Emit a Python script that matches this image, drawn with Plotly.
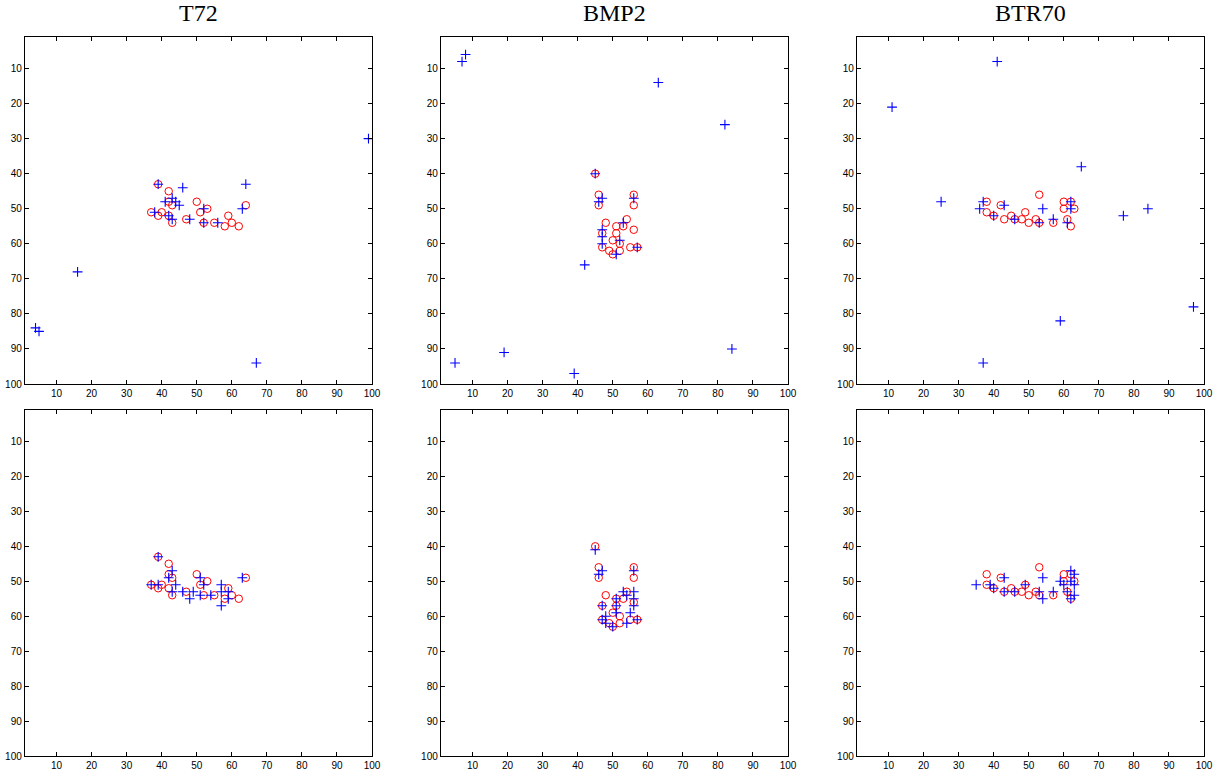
import plotly.graph_objects as go

titles = ["T72", "BMP2", "BTR70"]

# Red circles (same in both rows)
t72_circ_x = [39, 42, 42, 43, 37, 39, 40, 42, 43, 47, 50, 51, 53, 52, 55, 59, 58, 60, 62, 64]
t72_circ_y = [43, 45, 48, 49, 51, 52, 51, 52, 54, 53, 48, 51, 50, 54, 54, 52, 55, 54, 55, 49]
bmp2_circ_x = [45, 46, 46, 56, 56, 48, 54, 53, 47, 51, 56, 50, 52, 47, 49, 50, 52, 55, 57, 51]
bmp2_circ_y = [40, 46, 49, 46, 49, 54, 53, 55, 57, 57, 56, 59, 60, 61, 62, 63, 62, 61, 61, 55]
btr70_circ_x = [38, 38, 40, 42, 43, 45, 46, 48, 49, 50, 52, 53, 53, 57, 60, 60, 62, 63, 61, 62]
btr70_circ_y = [48, 51, 52, 49, 53, 52, 53, 53, 51, 54, 53, 46, 54, 54, 48, 50, 48, 50, 53, 55]

# Blue pluses, top row
t72_top_x = [39, 46, 43, 41, 44, 45, 38, 42, 43, 48, 52, 52, 56, 63, 64, 99, 16, 4, 5, 67]
t72_top_y = [43, 44, 47, 48, 48, 49, 51, 52, 53, 53, 50, 54, 54, 50, 43, 30, 68, 84, 85, 94]
bmp2_top_x = [45, 47, 46, 56, 53, 47, 47, 47, 52, 51, 57, 42, 8, 7, 63, 82, 5, 19, 39, 84]
bmp2_top_y = [40, 47, 48, 47, 54, 56, 58, 60, 59, 63, 61, 66, 6, 8, 14, 26, 94, 91, 97, 90]
btr70_top_x = [37, 36, 40, 43, 46, 53, 54, 57, 61, 62, 62, 65, 41, 11, 25, 77, 84, 59, 37, 97]
btr70_top_y = [48, 50, 52, 49, 53, 54, 50, 53, 54, 48, 50, 38, 8, 21, 48, 52, 50, 82, 94, 78]

# Blue pluses, bottom row
t72_bot_x = [39, 43, 42, 37, 39, 44, 43, 46, 49, 48, 51, 52, 51, 54, 57, 57, 59, 59, 57, 63]
t72_bot_y = [43, 47, 49, 51, 51, 51, 53, 53, 53, 55, 49, 51, 54, 54, 51, 53, 53, 55, 57, 49]
bmp2_bot_x = [45, 47, 46, 56, 53, 56, 54, 56, 51, 56, 47, 51, 51, 55, 47, 48, 48, 50, 54, 57]
bmp2_bot_y = [41, 47, 48, 47, 53, 53, 54, 55, 55, 57, 57, 57, 59, 59, 61, 60, 62, 63, 62, 61]
btr70_bot_x = [35, 39, 40, 43, 43, 46, 49, 53, 54, 54, 57, 59, 60, 62, 63, 62, 63, 61, 63, 62]
btr70_bot_y = [51, 51, 52, 49, 53, 53, 51, 53, 49, 55, 53, 50, 51, 47, 48, 50, 51, 53, 54, 55]

tick_vals = [10, 20, 30, 40, 50, 60, 70, 80, 90, 100]

W, H = 1221, 776
col_px = [(25, 372), (441, 788), (857, 1204)]
row_px = [(37, 384), (410, 756)]

circ = [(t72_circ_x, t72_circ_y), (bmp2_circ_x, bmp2_circ_y), (btr70_circ_x, btr70_circ_y)]
plus = [
    [(t72_top_x, t72_top_y), (bmp2_top_x, bmp2_top_y), (btr70_top_x, btr70_top_y)],
    [(t72_bot_x, t72_bot_y), (bmp2_bot_x, bmp2_bot_y), (btr70_bot_x, btr70_bot_y)],
]

fig = go.Figure()
layout = {}
annotations = []
n = 0
for r in range(2):
    for c in range(3):
        n += 1
        xa = "x" if n == 1 else f"x{n}"
        ya = "y" if n == 1 else f"y{n}"
        cx, cy = circ[c]
        fig.add_trace(go.Scatter(
            x=cx, y=cy, mode="markers", xaxis=xa, yaxis=ya, showlegend=False,
            marker=dict(symbol="circle-open", size=7.5, color="#ff0000", line=dict(width=1, color="#ff0000")),
        ))
        px_, py_ = plus[r][c]
        fig.add_trace(go.Scatter(
            x=px_, y=py_, mode="markers", xaxis=xa, yaxis=ya, showlegend=False,
            marker=dict(symbol="cross-thin-open", size=7, color="#0000ff", line=dict(width=1.1, color="#0000ff")),
        ))
        x0, x1 = col_px[c]
        y0, y1 = row_px[r]
        common = dict(
            tickvals=tick_vals, ticktext=[str(v) for v in tick_vals], ticks="inside", ticklen=4,
            tickwidth=1, tickcolor="black", showline=True, linecolor="black", linewidth=1.4,
            mirror="ticks", showgrid=False, zeroline=False, automargin=False,
            tickfont=dict(family="Liberation Sans, Arial, sans-serif", size=10, color="black"),
        )
        layout["xaxis" if n == 1 else f"xaxis{n}"] = dict(
            domain=[x0 / W, x1 / W], range=[1, 100], anchor=ya, **common)
        layout["yaxis" if n == 1 else f"yaxis{n}"] = dict(
            domain=[1 - y1 / H, 1 - y0 / H], range=[100, 1], anchor=xa, **common)
        if r == 0:
            annotations.append(dict(
                text=titles[c], x=(x0 + x1) / 2 / W, y=1 - 13 / H, xref="paper", yref="paper",
                showarrow=False, xanchor="center", yanchor="middle",
                font=dict(family="Liberation Serif, Times New Roman, serif", size=24, color="black")))

fig.update_layout(
    width=W, height=H, margin=dict(l=0, r=0, t=0, b=0, pad=0, autoexpand=False),
    paper_bgcolor="white", plot_bgcolor="white", annotations=annotations, **layout,
)
fig.write_html(
    "out.html",
    config={"displayModeBar": False},
    post_script="document.body.style.margin='0px';document.body.style.padding='0px';document.body.style.overflow='hidden';",
)
